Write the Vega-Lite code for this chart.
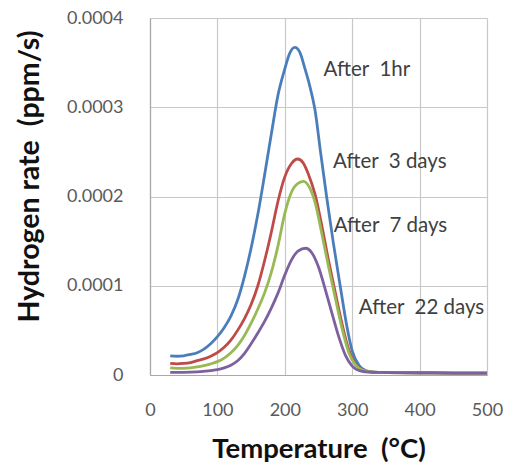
{
 "$schema": "https://vega.github.io/schema/vega-lite/v6.json",
 "width": 337,
 "height": 357,
 "autosize": "none",
 "padding": {"left": 150, "top": 18, "right": 21, "bottom": 99},
 "background": "white",
 "config": {"view": {"stroke": null}, "font": "Lato"},
 "datasets": {
  "curves": [
   {"series": "After 1hr", "temp": 30, "rate": 0.0000215},
   {"series": "After 1hr", "temp": 40, "rate": 0.000021},
   {"series": "After 1hr", "temp": 50, "rate": 0.0000215},
   {"series": "After 1hr", "temp": 60, "rate": 0.000023},
   {"series": "After 1hr", "temp": 70, "rate": 0.000025},
   {"series": "After 1hr", "temp": 80, "rate": 0.000029},
   {"series": "After 1hr", "temp": 90, "rate": 0.000035},
   {"series": "After 1hr", "temp": 100, "rate": 0.000043},
   {"series": "After 1hr", "temp": 110, "rate": 0.000053},
   {"series": "After 1hr", "temp": 120, "rate": 0.000066},
   {"series": "After 1hr", "temp": 130, "rate": 0.000084},
   {"series": "After 1hr", "temp": 140, "rate": 0.00011},
   {"series": "After 1hr", "temp": 150, "rate": 0.000142},
   {"series": "After 1hr", "temp": 160, "rate": 0.00018},
   {"series": "After 1hr", "temp": 170, "rate": 0.000224},
   {"series": "After 1hr", "temp": 180, "rate": 0.00027},
   {"series": "After 1hr", "temp": 190, "rate": 0.000314},
   {"series": "After 1hr", "temp": 200, "rate": 0.000343},
   {"series": "After 1hr", "temp": 207, "rate": 0.00036},
   {"series": "After 1hr", "temp": 215, "rate": 0.000367},
   {"series": "After 1hr", "temp": 222, "rate": 0.000362},
   {"series": "After 1hr", "temp": 230, "rate": 0.000343},
   {"series": "After 1hr", "temp": 237, "rate": 0.000324},
   {"series": "After 1hr", "temp": 245, "rate": 0.000296},
   {"series": "After 1hr", "temp": 253, "rate": 0.00025},
   {"series": "After 1hr", "temp": 262, "rate": 0.0002},
   {"series": "After 1hr", "temp": 272, "rate": 0.000148},
   {"series": "After 1hr", "temp": 283, "rate": 0.000096},
   {"series": "After 1hr", "temp": 292, "rate": 0.000055},
   {"series": "After 1hr", "temp": 300, "rate": 0.000027},
   {"series": "After 1hr", "temp": 310, "rate": 0.000011},
   {"series": "After 1hr", "temp": 320, "rate": 0.000005},
   {"series": "After 1hr", "temp": 330, "rate": 0.0000035},
   {"series": "After 1hr", "temp": 350, "rate": 0.0000028},
   {"series": "After 1hr", "temp": 400, "rate": 0.0000025},
   {"series": "After 1hr", "temp": 450, "rate": 0.0000022},
   {"series": "After 1hr", "temp": 500, "rate": 0.000002},

   {"series": "After 3 days", "temp": 30, "rate": 0.000013},
   {"series": "After 3 days", "temp": 40, "rate": 0.0000125},
   {"series": "After 3 days", "temp": 50, "rate": 0.000013},
   {"series": "After 3 days", "temp": 60, "rate": 0.000014},
   {"series": "After 3 days", "temp": 70, "rate": 0.000016},
   {"series": "After 3 days", "temp": 80, "rate": 0.000018},
   {"series": "After 3 days", "temp": 90, "rate": 0.000021},
   {"series": "After 3 days", "temp": 100, "rate": 0.000025},
   {"series": "After 3 days", "temp": 110, "rate": 0.000031},
   {"series": "After 3 days", "temp": 120, "rate": 0.000039},
   {"series": "After 3 days", "temp": 130, "rate": 0.00005},
   {"series": "After 3 days", "temp": 140, "rate": 0.000063},
   {"series": "After 3 days", "temp": 150, "rate": 0.000079},
   {"series": "After 3 days", "temp": 160, "rate": 0.0001},
   {"series": "After 3 days", "temp": 170, "rate": 0.000128},
   {"series": "After 3 days", "temp": 180, "rate": 0.00016},
   {"series": "After 3 days", "temp": 190, "rate": 0.000195},
   {"series": "After 3 days", "temp": 200, "rate": 0.000222},
   {"series": "After 3 days", "temp": 210, "rate": 0.000237},
   {"series": "After 3 days", "temp": 219, "rate": 0.000242},
   {"series": "After 3 days", "temp": 227, "rate": 0.000238},
   {"series": "After 3 days", "temp": 235, "rate": 0.000225},
   {"series": "After 3 days", "temp": 245, "rate": 0.000202},
   {"series": "After 3 days", "temp": 255, "rate": 0.000167},
   {"series": "After 3 days", "temp": 265, "rate": 0.000128},
   {"series": "After 3 days", "temp": 275, "rate": 0.000092},
   {"series": "After 3 days", "temp": 285, "rate": 0.000057},
   {"series": "After 3 days", "temp": 295, "rate": 0.000028},
   {"series": "After 3 days", "temp": 305, "rate": 0.000012},
   {"series": "After 3 days", "temp": 315, "rate": 0.000006},
   {"series": "After 3 days", "temp": 330, "rate": 0.0000032},
   {"series": "After 3 days", "temp": 350, "rate": 0.0000028},
   {"series": "After 3 days", "temp": 400, "rate": 0.0000025},
   {"series": "After 3 days", "temp": 450, "rate": 0.0000022},
   {"series": "After 3 days", "temp": 500, "rate": 0.000002},

   {"series": "After 7 days", "temp": 30, "rate": 0.000008},
   {"series": "After 7 days", "temp": 40, "rate": 0.0000075},
   {"series": "After 7 days", "temp": 50, "rate": 0.0000075},
   {"series": "After 7 days", "temp": 60, "rate": 0.000008},
   {"series": "After 7 days", "temp": 70, "rate": 0.000009},
   {"series": "After 7 days", "temp": 80, "rate": 0.0000105},
   {"series": "After 7 days", "temp": 90, "rate": 0.0000125},
   {"series": "After 7 days", "temp": 100, "rate": 0.000015},
   {"series": "After 7 days", "temp": 110, "rate": 0.000019},
   {"series": "After 7 days", "temp": 120, "rate": 0.000025},
   {"series": "After 7 days", "temp": 130, "rate": 0.000033},
   {"series": "After 7 days", "temp": 140, "rate": 0.000044},
   {"series": "After 7 days", "temp": 150, "rate": 0.000058},
   {"series": "After 7 days", "temp": 160, "rate": 0.000074},
   {"series": "After 7 days", "temp": 170, "rate": 0.000092},
   {"series": "After 7 days", "temp": 180, "rate": 0.000115},
   {"series": "After 7 days", "temp": 190, "rate": 0.000145},
   {"series": "After 7 days", "temp": 200, "rate": 0.000181},
   {"series": "After 7 days", "temp": 210, "rate": 0.000205},
   {"series": "After 7 days", "temp": 220, "rate": 0.000215},
   {"series": "After 7 days", "temp": 228, "rate": 0.000217},
   {"series": "After 7 days", "temp": 236, "rate": 0.000211},
   {"series": "After 7 days", "temp": 245, "rate": 0.000193},
   {"series": "After 7 days", "temp": 255, "rate": 0.000158},
   {"series": "After 7 days", "temp": 265, "rate": 0.000121},
   {"series": "After 7 days", "temp": 275, "rate": 0.000086},
   {"series": "After 7 days", "temp": 285, "rate": 0.000052},
   {"series": "After 7 days", "temp": 295, "rate": 0.000025},
   {"series": "After 7 days", "temp": 305, "rate": 0.000011},
   {"series": "After 7 days", "temp": 315, "rate": 0.0000055},
   {"series": "After 7 days", "temp": 330, "rate": 0.0000032},
   {"series": "After 7 days", "temp": 350, "rate": 0.0000028},
   {"series": "After 7 days", "temp": 400, "rate": 0.0000025},
   {"series": "After 7 days", "temp": 450, "rate": 0.0000022},
   {"series": "After 7 days", "temp": 500, "rate": 0.000002},

   {"series": "After 22 days", "temp": 30, "rate": 0.000003},
   {"series": "After 22 days", "temp": 50, "rate": 0.000003},
   {"series": "After 22 days", "temp": 70, "rate": 0.0000035},
   {"series": "After 22 days", "temp": 90, "rate": 0.000005},
   {"series": "After 22 days", "temp": 100, "rate": 0.000006},
   {"series": "After 22 days", "temp": 110, "rate": 0.000008},
   {"series": "After 22 days", "temp": 120, "rate": 0.000011},
   {"series": "After 22 days", "temp": 130, "rate": 0.000016},
   {"series": "After 22 days", "temp": 140, "rate": 0.000024},
   {"series": "After 22 days", "temp": 150, "rate": 0.000035},
   {"series": "After 22 days", "temp": 160, "rate": 0.000047},
   {"series": "After 22 days", "temp": 170, "rate": 0.00006},
   {"series": "After 22 days", "temp": 180, "rate": 0.000075},
   {"series": "After 22 days", "temp": 190, "rate": 0.000092},
   {"series": "After 22 days", "temp": 200, "rate": 0.000112},
   {"series": "After 22 days", "temp": 210, "rate": 0.000129},
   {"series": "After 22 days", "temp": 220, "rate": 0.000139},
   {"series": "After 22 days", "temp": 231, "rate": 0.000142},
   {"series": "After 22 days", "temp": 240, "rate": 0.000137},
   {"series": "After 22 days", "temp": 250, "rate": 0.000121},
   {"series": "After 22 days", "temp": 260, "rate": 0.000096},
   {"series": "After 22 days", "temp": 270, "rate": 0.000069},
   {"series": "After 22 days", "temp": 280, "rate": 0.000043},
   {"series": "After 22 days", "temp": 290, "rate": 0.000022},
   {"series": "After 22 days", "temp": 300, "rate": 0.00001},
   {"series": "After 22 days", "temp": 310, "rate": 0.000005},
   {"series": "After 22 days", "temp": 320, "rate": 0.0000035},
   {"series": "After 22 days", "temp": 330, "rate": 0.000003},
   {"series": "After 22 days", "temp": 350, "rate": 0.0000028},
   {"series": "After 22 days", "temp": 400, "rate": 0.0000025},
   {"series": "After 22 days", "temp": 450, "rate": 0.0000022},
   {"series": "After 22 days", "temp": 500, "rate": 0.000002}
  ],
  "labels": [
   {"label": "After\u00a0\u00a01hr", "x": 257.6, "y": 0.000342},
   {"label": "After\u00a0\u00a03 days", "x": 271.5, "y": 0.000239},
   {"label": "After\u00a0\u00a07 days", "x": 272.5, "y": 0.000167},
   {"label": "After\u00a0\u00a022 days", "x": 309.7, "y": 0.000075}
  ]
 },
 "layer": [
  {
   "data": {"name": "curves"},
   "mark": {"type": "line", "interpolate": "monotone", "strokeWidth": 2.8},
   "encoding": {
    "x": {
     "field": "temp", "type": "quantitative",
     "scale": {"domain": [0, 500], "nice": false},
     "axis": {
      "values": [0, 100, 200, 300, 400, 500],
      "title": "Temperature\u00a0\u00a0(°C)",
      "grid": true, "gridColor": "#c8c8c8", "gridWidth": 1.2,
      "domainColor": "#a8a8a8", "domainWidth": 1.2,
      "ticks": false, "labelPadding": 26, "labelFontSize": 18, "labelColor": "#5a5a5a",
      "labelFlush": false, "labelOverlap": false,
      "titleFontSize": 27.5, "titleFontWeight": "bold", "titleColor": "#111111",
      "titleY": 74, "titleBaseline": "middle"
     }
    },
    "y": {
     "field": "rate", "type": "quantitative",
     "scale": {"domain": [0, 0.0004], "nice": false},
     "axis": {
      "values": [0, 0.0001, 0.0002, 0.0003, 0.0004],
      "labelExpr": "datum.value == 0 ? '0' : format(datum.value, '.4f')",
      "grid": true, "gridColor": "#c8c8c8", "gridWidth": 1.2,
      "domainColor": "#a8a8a8", "domainWidth": 1.2,
      "ticks": false, "labelPadding": 27, "labelFontSize": 18, "labelColor": "#5a5a5a",
      "labelFlush": false, "labelOverlap": false,
      "title": "Hydrogen rate\u00a0\u00a0(ppm/s)",
      "titleFontSize": 28.5, "titleFontWeight": "bold", "titleColor": "#111111",
      "titleAngle": -90, "titleX": -121, "titleY": 158,
      "titleAlign": "center", "titleBaseline": "middle"
     }
    },
    "color": {
     "field": "series", "type": "nominal",
     "scale": {
      "domain": ["After 1hr", "After 3 days", "After 7 days", "After 22 days"],
      "range": ["#4a7ebb", "#be4b48", "#98b954", "#7d60a0"]
     },
     "legend": null
    }
   }
  },
  {
   "data": {"name": "labels"},
   "mark": {"type": "text", "align": "left", "baseline": "middle", "fontSize": 20.5, "color": "#404040"},
   "encoding": {
    "x": {"field": "x", "type": "quantitative"},
    "y": {"field": "y", "type": "quantitative"},
    "text": {"field": "label"}
   }
  }
 ]
}
